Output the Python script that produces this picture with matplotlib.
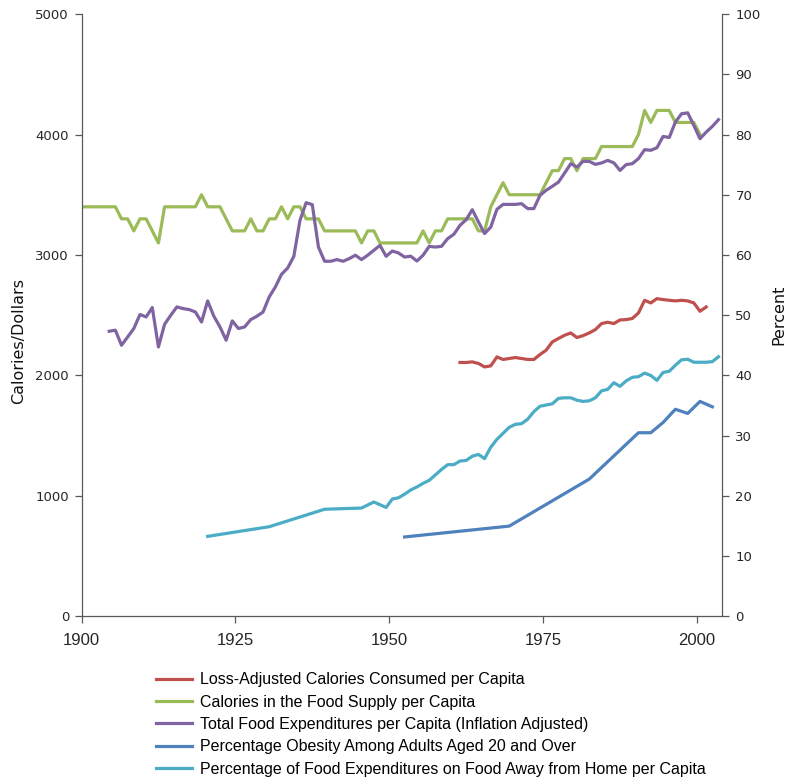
import matplotlib
matplotlib.use("Agg")
import matplotlib.pyplot as plt
import numpy as np

# ------------------------------------------------------------
# Food calories / expenditures / obesity, 1900-2003
# left axis: calories or dollars, right axis: percent
# ------------------------------------------------------------

supply_years = list(range(1900, 2001))
supply_cal = [3400, 3400, 3400, 3400, 3400, 3400, 3300, 3300, 3200, 3300,
              3300, 3200, 3100, 3400, 3400, 3400, 3400, 3400, 3400, 3500,
              3400, 3400, 3400, 3300, 3200, 3200, 3200, 3300, 3200, 3200,
              3300, 3300, 3400, 3300, 3400, 3400, 3300, 3300, 3300, 3200,
              3200, 3200, 3200, 3200, 3200, 3100, 3200, 3200, 3100, 3100,
              3100, 3100, 3100, 3100, 3100, 3200, 3100, 3200, 3200, 3300,
              3300, 3300, 3300, 3300, 3200, 3200, 3400, 3500, 3600, 3500,
              3500, 3500, 3500, 3500, 3500, 3600, 3700, 3700, 3800, 3800,
              3700, 3800, 3800, 3800, 3900, 3900, 3900, 3900, 3900, 3900,
              4000, 4200, 4100, 4200, 4200, 4200, 4100, 4100, 4100, 4100,
              4000]

spend_years = list(range(1904, 2004))
spend_usd = [2367, 2376, 2251, 2320, 2390, 2506, 2486, 2564, 2237, 2425,
             2500, 2569, 2555, 2547, 2527, 2444, 2619, 2492, 2403, 2293,
             2453, 2390, 2403, 2464, 2492, 2527, 2652, 2735, 2840, 2892,
             2989, 3288, 3434, 3418, 3066, 2948, 2948, 2962, 2948, 2970,
             2998, 2962, 2998, 3039, 3080, 2989, 3033, 3017, 2983, 2990,
             2950, 2998, 3072, 3066, 3072, 3136, 3172, 3246, 3293, 3376,
             3274, 3178, 3232, 3379, 3420, 3420, 3420, 3426, 3385, 3385,
             3495, 3537, 3570, 3605, 3680, 3758, 3730, 3777, 3777, 3752,
             3764, 3785, 3765, 3702, 3750, 3758, 3800, 3874, 3869, 3890,
             3984, 3975, 4103, 4172, 4180, 4075, 3965, 4020, 4067, 4123]

consumed_years = list(range(1961, 2002))
consumed_cal = [2108, 2108, 2113, 2100, 2071, 2080, 2154, 2133, 2141, 2149,
                2141, 2133, 2133, 2174, 2210, 2279, 2307, 2334, 2353, 2315,
                2331, 2353, 2381, 2431, 2442, 2431, 2461, 2464, 2473, 2519,
                2624, 2602, 2638, 2630, 2624, 2619, 2624, 2619, 2602, 2533,
                2569]

obesity_years = [1952, 1969, 1982, 1990, 1992, 1994, 1996, 1998, 2000, 2002]
obesity_pct = [13.2, 15.0, 22.8, 30.5, 30.5, 32.2, 34.4, 33.7, 35.7, 34.8]

away_years = [1920, 1930, 1939, 1945, 1947, 1949] + list(range(1950, 2004))
away_pct = [13.3, 14.9, 17.8, 18.0, 19.0, 18.1,
            19.5, 19.7, 20.3, 21.0, 21.5, 22.1, 22.6, 23.5, 24.4, 25.2,
            25.2, 25.8, 25.9, 26.6, 26.9, 26.2, 28.1, 29.4, 30.4, 31.4,
            31.9, 32.0, 32.75, 34.0, 34.9, 35.1, 35.3, 36.2, 36.3, 36.3,
            35.9, 35.7, 35.8, 36.3, 37.45, 37.7, 38.8, 38.2, 39.1, 39.7,
            39.8, 40.4, 40.0, 39.2, 40.5, 40.7, 41.7, 42.6, 42.7, 42.2,
            42.2, 42.2, 42.3, 43.1]

tick_years = [1900, 1925, 1950, 1975, 2000]

RED = "#C0504D"
GREEN = "#9BBB59"
PURPLE = "#8064A2"
BLUE = "#4F81BD"
CYAN = "#4BACC6"
AXIS = "#595959"
SANS = ["Liberation Sans", "DejaVu Sans"]

fig = plt.figure(figsize=(7.86, 7.78), dpi=100)
ax = fig.add_axes([0.1037, 0.2076, 0.8143, 0.7744])
ax2 = ax.twinx()

lw = 2.3
l1, = ax.plot(consumed_years, consumed_cal, color=RED, lw=lw,
              label="Loss-Adjusted Calories Consumed per Capita")
l2, = ax.plot(supply_years, supply_cal, color=GREEN, lw=lw,
              label="Calories in the Food Supply per Capita")
l3, = ax.plot(spend_years, spend_usd, color=PURPLE, lw=lw,
              label="Total Food Expenditures per Capita (Inflation Adjusted)")
l4, = ax2.plot(obesity_years, obesity_pct, color=BLUE, lw=lw,
               label="Percentage Obesity Among Adults Aged 20 and Over")
l5, = ax2.plot(away_years, away_pct, color=CYAN, lw=lw,
               label="Percentage of Food Expenditures on Food Away from Home per Capita")

# category style axis: ticks sit between the years
ax.set_xlim(1899.5, 2003.5)
ax.set_xticks([y - 0.5 for y in tick_years], [str(y) for y in tick_years],
              fontfamily=SANS, fontsize=12)
ax.set_ylim(0, 5000)
ax.set_yticks(np.arange(0, 5001, 1000))
ax2.set_ylim(0, 100)
ax2.set_yticks(np.arange(0, 101, 10))

for a in (ax, ax2):
    a.spines["top"].set_visible(False)
    for s in a.spines.values():
        s.set_color(AXIS)
        s.set_linewidth(0.9)
ax.spines["right"].set_visible(False)
ax2.spines["left"].set_visible(False)
ax2.spines["bottom"].set_visible(False)

ax.tick_params(axis="y", length=5, width=0.9, color=AXIS, labelsize=9.5,
               labelcolor="#262626", pad=4)
ax2.tick_params(axis="y", length=5, width=0.9, color=AXIS, labelsize=9.5,
                labelcolor="#262626", pad=5)
ax.tick_params(axis="x", length=5, width=0.9, color=AXIS, labelcolor="#262626",
               pad=7)

ax.set_ylabel("Calories/Dollars", fontsize=11.5, color="#111111")
ax.yaxis.set_label_coords(-0.087, 0.458)
ax2.set_ylabel("Percent", fontsize=11.5, color="#111111")
ax2.yaxis.set_label_coords(1.078, 0.5)

fig.legend(handles=[l1, l2, l3, l4, l5], loc="upper left",
           bbox_to_anchor=(0.198, 0.136), frameon=False,
           prop={"family": SANS, "size": 11.5},
           handlelength=2.3, handletextpad=0.45, labelspacing=0.46,
           borderaxespad=0, borderpad=0)

fig.savefig("out.png", dpi=100)
